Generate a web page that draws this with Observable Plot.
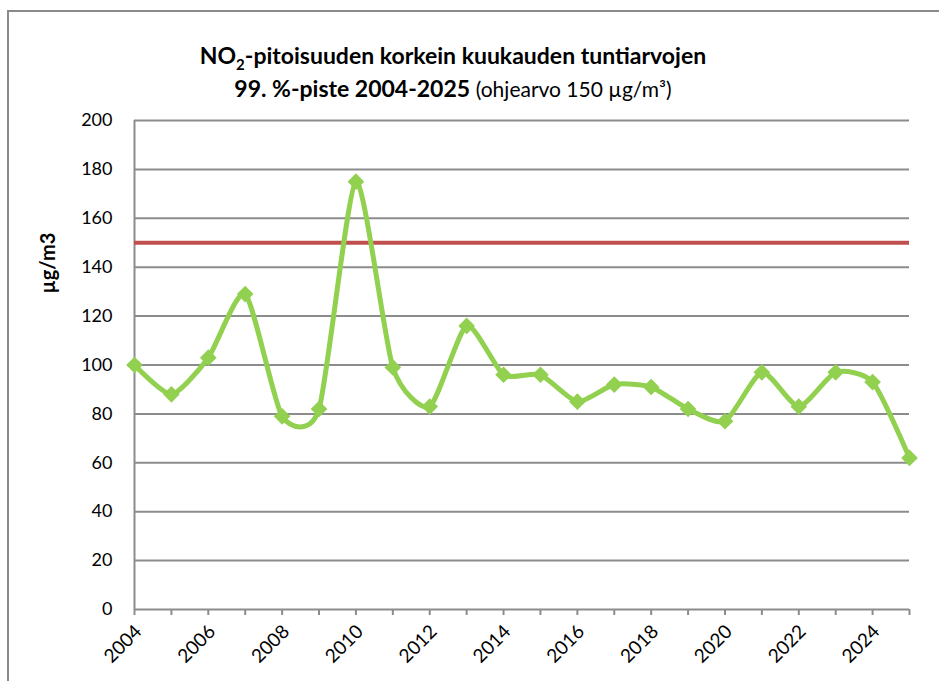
<!DOCTYPE html>
<html>
<head>
<meta charset="utf-8">
<script src="https://cdn.jsdelivr.net/npm/d3@7"></script>
<script src="https://cdn.jsdelivr.net/npm/@observablehq/plot@0.6"></script>
<style>
  html, body { margin: 0; padding: 0; background: #fff; }
  body { width: 939px; height: 681px; position: relative; overflow: hidden; font-family: Lato, "Open Sans", sans-serif; }
  #frame { position: absolute; left: 7px; top: 10px; width: 1000px; height: 800px; border-left: 2px solid #8a8a8a; border-top: 2px solid #8a8a8a; }
  #title { position: absolute; left: 0; width: 906px; top: 39px; text-align: center; color: #000; line-height: 33px; font-size: 23px; font-weight: bold; }
  #title .light { font-weight: normal; font-size: 21px; }
  #ylabel { position: absolute; left: 47px; top: 263px; transform: translate(-50%, -50%) rotate(-90deg); font-weight: bold; font-size: 20px; white-space: nowrap; }
  #chart { position: absolute; left: 0; top: 0; }
</style>
</head>
<body>
<div id="frame"></div>
<div id="chart"></div>
<div id="title">NO<sub style="font-size:15px;line-height:0">2</sub>-pitoisuuden korkein kuukauden tuntiarvojen<br>99. %-piste 2004-2025 <span class="light">(ohjearvo 150 µg/m³)</span></div>
<div id="ylabel">µg/m3</div>
<script>
const years = [2004,2005,2006,2007,2008,2009,2010,2011,2012,2013,2014,2015,2016,2017,2018,2019,2020,2021,2022,2023,2024,2025];
const values = [100,88,103,129,79,82,175,99,83,116,96,96,85,92,91,82,77,97,83,97,93,62];
const limitValue = 150;
const yTicks = [0,20,40,60,80,100,120,140,160,180,200];
const xLabelYears = [2004,2006,2008,2010,2012,2014,2016,2018,2020,2022,2024];

const data = years.map((y, i) => ({year: y, value: values[i]}));

const chart = Plot.plot({
  width: 939,
  height: 681,
  marginLeft: 134,
  marginRight: 30,
  marginTop: 120,
  marginBottom: 72,
  style: {background: "transparent", fontFamily: "Lato, 'Open Sans', sans-serif", color: "#000"},
  x: {type: "linear", domain: [2004, 2025]},
  y: {domain: [0, 200]},
  marks: [
    Plot.ruleY(yTicks, {stroke: "#8c8c8c", strokeWidth: 2}),
    Plot.ruleX([2004], {stroke: "#8c8c8c", strokeWidth: 2}),
    Plot.ruleY([limitValue], {stroke: "#C0504D", strokeWidth: 4}),
    Plot.axisY({ticks: yTicks, tickSize: 0, tickPadding: 22, fontSize: 18, label: null, tickFormat: d => String(d)}),
    Plot.axisX({ticks: years, tickSize: 6, stroke: "#8c8c8c", strokeWidth: 2, tickFormat: () => "", label: null}),
    Plot.axisX({ticks: xLabelYears, tickSize: 0, tickRotate: -45, tickPadding: 19, dx: 4, fontSize: 19, label: null, tickFormat: d => String(d)}),
    Plot.line(data, {x: "year", y: "value", stroke: "#92D050", strokeWidth: 5, curve: "cardinal", tension: 0.35}),
    Plot.dot(data, {x: "year", y: "value", symbol: "diamond2", r: 7.5, fill: "#92D050", stroke: "none"})
  ]
});
document.getElementById("chart").appendChild(chart);
</script>
</body>
</html>
